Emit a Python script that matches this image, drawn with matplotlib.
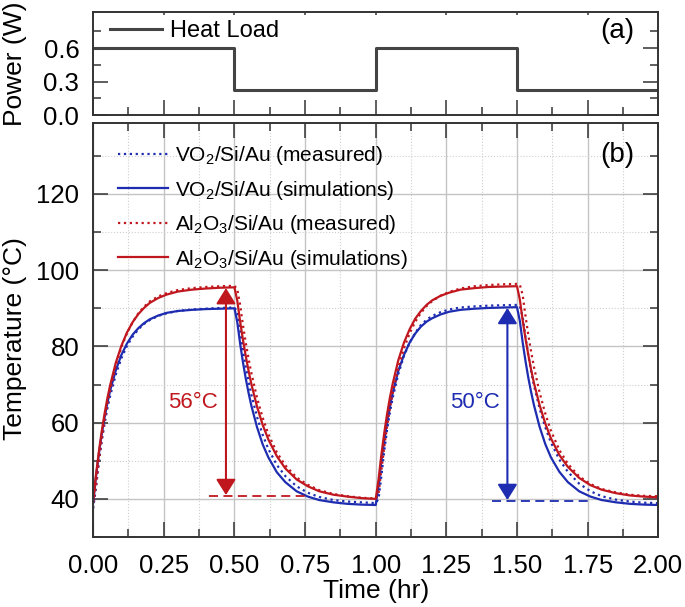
import matplotlib
matplotlib.use("Agg")
import matplotlib.pyplot as plt
from matplotlib.ticker import MultipleLocator, FixedLocator

plt.rcParams['font.family'] = ['Liberation Sans', 'DejaVu Sans']
plt.rcParams['mathtext.fontset'] = 'custom'
plt.rcParams['mathtext.rm'] = 'Liberation Sans'
plt.rcParams['mathtext.default'] = 'regular'

# heat load steps (hr, W)
load_t = [0.0, 0.5, 1.0, 1.5, 2.0]
load_p = [0.6, 0.22, 0.6, 0.22, 0.22]

# time grid of the temperature traces (hr)
time = [0.00, 0.01, 0.02, 0.03, 0.04, 0.05, 0.06, 0.08, 0.10, 0.12, 0.14, 0.16, 0.18, 0.20, 0.23, 0.26, 0.30, 0.35, 0.40, 0.45, 0.50,
        0.51, 0.52, 0.53, 0.54, 0.55, 0.56, 0.58, 0.60, 0.62, 0.65, 0.68, 0.72, 0.76, 0.80, 0.85, 0.90, 0.95, 1.00,
        1.01, 1.02, 1.03, 1.04, 1.05, 1.06, 1.08, 1.10, 1.12, 1.14, 1.16, 1.18, 1.20, 1.23, 1.26, 1.30, 1.35, 1.40, 1.45, 1.50,
        1.51, 1.52, 1.53, 1.54, 1.55, 1.56, 1.58, 1.60, 1.62, 1.65, 1.68, 1.72, 1.76, 1.80, 1.85, 1.90, 1.95, 2.00]

vo2_sim = [39.0, 45.8, 51.7, 56.8, 61.2, 65.0, 68.4, 73.7, 77.8, 80.8, 83.1, 84.8, 86.1, 87.1, 88.1, 88.8, 89.3, 89.6, 89.8, 89.9, 90.0,
           86.4, 80.8, 75.9, 71.6, 67.8, 64.4, 58.8, 54.3, 50.9, 47.0, 44.4, 42.0, 40.6, 39.7, 39.1, 38.7, 38.5, 38.4,
           43.5, 49.9, 55.4, 60.2, 64.3, 67.8, 73.6, 77.8, 81.0, 83.4, 85.2, 86.5, 87.4, 88.4, 89.1, 89.6, 89.9, 90.1, 90.2, 90.3,
           86.7, 81.1, 76.2, 71.8, 68.0, 64.6, 58.9, 54.4, 50.9, 47.1, 44.4, 42.0, 40.6, 39.7, 39.1, 38.7, 38.5, 38.4]

vo2_meas = [37.5, 43.0, 49.5, 55.0, 59.6, 63.6, 67.0, 72.6, 76.9, 80.2, 82.6, 84.5, 85.9, 86.9, 88.0, 88.7, 89.3, 89.7, 89.9, 90.1, 90.2,
            89.2, 84.4, 79.2, 74.7, 70.8, 67.3, 61.5, 56.8, 53.1, 48.9, 46.0, 43.3, 41.6, 40.5, 39.7, 39.3, 39.1, 38.9,
            40.0, 46.0, 52.5, 58.0, 62.6, 66.5, 72.8, 77.5, 81.0, 83.6, 85.6, 87.0, 88.0, 89.0, 89.7, 90.2, 90.5, 90.7, 90.8, 90.9,
            90.6, 87.8, 82.5, 77.7, 73.5, 69.8, 63.7, 58.8, 54.8, 50.3, 47.1, 44.0, 42.0, 40.7, 39.8, 39.3, 39.0, 38.9]

al_sim = [39.5, 46.3, 52.3, 57.6, 62.2, 66.3, 69.8, 75.7, 80.2, 83.7, 86.4, 88.5, 90.1, 91.4, 92.7, 93.6, 94.4, 94.9, 95.2, 95.4, 95.5,
          92.0, 86.6, 81.8, 77.5, 73.6, 70.1, 64.2, 59.4, 55.6, 51.2, 48.0, 45.1, 43.3, 42.0, 41.1, 40.6, 40.2, 40.0,
          45.1, 51.6, 57.2, 62.2, 66.5, 70.2, 76.4, 81.0, 84.5, 87.3, 89.3, 90.9, 92.1, 93.3, 94.1, 94.9, 95.3, 95.6, 95.7, 95.8,
          92.3, 86.9, 82.1, 77.8, 73.9, 70.4, 64.6, 59.8, 55.9, 51.5, 48.4, 45.5, 43.6, 42.4, 41.5, 40.9, 40.6, 40.4]

al_meas = [39.0, 43.5, 50.0, 55.6, 60.5, 64.8, 68.5, 74.9, 79.8, 83.5, 86.4, 88.7, 90.4, 91.8, 93.1, 94.0, 94.8, 95.3, 95.6, 95.8, 95.9,
           95.0, 91.0, 85.6, 81.0, 76.8, 73.0, 66.5, 61.3, 57.0, 52.2, 48.8, 45.6, 43.7, 42.3, 41.3, 40.7, 40.3, 40.1,
           41.5, 47.5, 53.5, 58.9, 63.6, 67.6, 74.4, 79.5, 83.4, 86.5, 88.8, 90.6, 91.9, 93.3, 94.3, 95.2, 95.8, 96.1, 96.3, 96.4,
           96.2, 93.5, 88.0, 83.0, 78.6, 74.6, 67.9, 62.4, 57.9, 52.8, 49.2, 45.9, 43.9, 42.6, 41.7, 41.1, 40.8, 40.7]

blue = '#1d2cb0'
red = '#c0171f'
spine_c = '#333333'

fig = plt.figure(figsize=(6.85, 6.07), dpi=100)
ax1 = fig.add_axes([0.136, 0.8105, 0.825, 0.169])
ax2 = fig.add_axes([0.136, 0.1153, 0.825, 0.6826])

# (a) heat load
ax1.plot(load_t, load_p, drawstyle='steps-post', color='#444444', lw=2.2, label='Heat Load')
ax1.set_xlim(0, 2)
ax1.set_ylim(0, 0.92)
ax1.yaxis.set_major_locator(FixedLocator([0.0, 0.3, 0.6]))
ax1.yaxis.set_minor_locator(FixedLocator([0.15, 0.45, 0.75]))
ax1.xaxis.set_major_locator(MultipleLocator(0.25))
ax1.xaxis.set_minor_locator(MultipleLocator(0.125))
ax1.set_yticklabels(['0.0', '0.3', '0.6'])
ax1.tick_params(which='both', direction='in', right=True, top=False, labelbottom=False, labelsize=18.5, width=1.1, color=spine_c, pad=10)
ax1.tick_params(which='major', length=11)
ax1.tick_params(which='minor', length=5.5)
sec = ax1.secondary_xaxis('top')
sec.xaxis.set_major_locator(MultipleLocator(0.25))
sec.tick_params(direction='in', length=2.5, width=1.1, labeltop=False, color=spine_c)
sec.spines['top'].set_visible(False)
ax1.set_ylabel('Power (W)', fontsize=19)
ax1.yaxis.set_label_coords(-0.117, 0.5)
ax1.legend(loc='center left', bbox_to_anchor=(0.03, 0.82), frameon=False, fontsize=17,
           handlelength=2.2, handletextpad=0.35, borderpad=0, borderaxespad=0)
ax1.text(0.927, 0.818, '(a)', transform=ax1.transAxes, fontsize=20, ha='center', va='center')

# (b) temperature traces
ax2.plot(time, vo2_meas, color=blue, lw=1.6, ls=':', label='VO$_2$/Si/Au (measured)')
ax2.plot(time, vo2_sim, color=blue, lw=1.6, label='VO$_2$/Si/Au (simulations)')
ax2.plot(time, al_meas, color=red, lw=1.6, ls=':', label='Al$_2$O$_3$/Si/Au (measured)')
ax2.plot(time, al_sim, color=red, lw=1.6, label='Al$_2$O$_3$/Si/Au (simulations)')

ax2.plot([0.41, 0.76], [40.8, 40.8], color=red, lw=1.3, ls=(0, (5, 3)))
ax2.plot([1.41, 1.76], [39.5, 39.5], color=blue, lw=1.3, ls=(0, (5, 3)))
ax2.annotate('', xy=(0.47, 95.3), xytext=(0.47, 41.0),
             arrowprops=dict(arrowstyle='<|-|>,head_length=0.4,head_width=0.25', color=red, lw=1.5,
                             mutation_scale=24, shrinkA=0, shrinkB=0))
ax2.annotate('', xy=(1.466, 90.1), xytext=(1.466, 39.7),
             arrowprops=dict(arrowstyle='<|-|>,head_length=0.4,head_width=0.25', color=blue, lw=1.5,
                             mutation_scale=24, shrinkA=0, shrinkB=0))
ax2.text(0.354, 65.3, '56°C', color=red, fontsize=16, ha='center', va='center')
ax2.text(1.352, 65.3, '50°C', color=blue, fontsize=16, ha='center', va='center')

ax2.set_xlim(0, 2)
ax2.set_ylim(30, 138.7)
ax2.xaxis.set_major_locator(MultipleLocator(0.25))
ax2.xaxis.set_minor_locator(MultipleLocator(0.125))
ax2.yaxis.set_major_locator(MultipleLocator(20))
ax2.yaxis.set_minor_locator(MultipleLocator(10))
ax2.set_xticks([0, 0.25, 0.5, 0.75, 1.0, 1.25, 1.5, 1.75, 2.0])
ax2.set_xticklabels(['0.00', '0.25', '0.50', '0.75', '1.00', '1.25', '1.50', '1.75', '2.00'])
ax2.set_yticks([40, 60, 80, 100, 120])
ax2.grid(which='major', color='#c4c4c4', lw=1.0, ls='-')
ax2.grid(which='minor', color='#cfcfcf', lw=0.8, ls=':')
ax2.set_axisbelow(True)
ax2.tick_params(which='both', direction='in', top=True, right=True, labelsize=18.5, width=1.1, color=spine_c, pad=10)
ax2.tick_params(which='major', length=11)
ax2.tick_params(which='minor', length=5.5)
ax2.tick_params(axis='x', pad=12)
ax2.set_xlabel('Time (hr)', fontsize=19, labelpad=1)
ax2.set_ylabel('Temperature (°C)', fontsize=19)
ax2.yaxis.set_label_coords(-0.117, 0.48)
ax2.legend(loc='upper left', bbox_to_anchor=(0.044, 0.948), frameon=False, fontsize=15,
           handlelength=2.4, handletextpad=0.33, labelspacing=0.55, borderpad=0, borderaxespad=0)
ax2.text(0.927, 0.922, '(b)', transform=ax2.transAxes, fontsize=20, ha='center', va='center')

for ax in (ax1, ax2):
    for s in ax.spines.values():
        s.set_linewidth(1.4)
        s.set_color(spine_c)

fig.savefig('out.png', dpi=100)
